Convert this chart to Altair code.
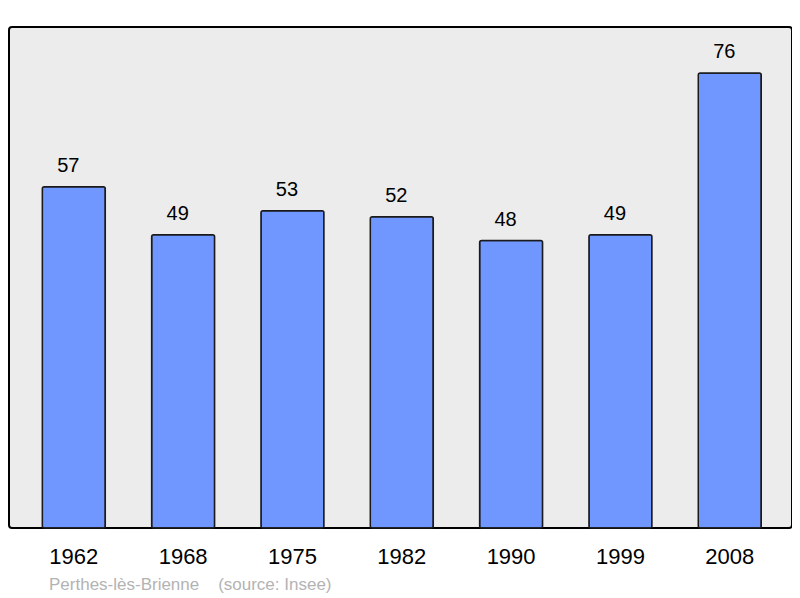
import altair as alt
import pandas as pd

years = ["1962", "1968", "1975", "1982", "1990", "1999", "2008"]
population = [57, 49, 53, 52, 48, 49, 76]
footer = "Perthes-lès-Brienne\u00a0\u00a0\u00a0\u00a0(source: Insee)"

df = pd.DataFrame({"year": years, "pop": population})

x = alt.X("year:N", sort=years,
          scale=alt.Scale(paddingInner=0.424, paddingOuter=0.293, align=0.52),
          axis=alt.Axis(title=None, domain=False, ticks=False, labelAngle=0,
                        labelFontSize=22, labelFont="Liberation Sans",
                        labelColor="#000000", labelPadding=18))
y = alt.Y("pop:Q", scale=alt.Scale(domain=[0, 83.68], nice=False, zero=True), axis=None)

bars = alt.Chart(df).mark_bar(color="#7096ff", stroke="#1a1a1a", strokeWidth=1.5,
                              cornerRadius=2).encode(x=x, y=y)
labels = alt.Chart(df).mark_text(baseline="alphabetic", dx=-5.5, dy=-14.5, fontSize=20,
                                 font="Liberation Sans", color="#000000").encode(
    x=x, y=y, text="pop:Q")

chart = (bars + labels).properties(
    width=783, height=501,
    padding={"left": 1, "top": 19, "right": 0, "bottom": 66},
    autosize=alt.AutoSizeParams(type="none"),
    title=alt.TitleParams(footer, orient="bottom", anchor="start", dx=40, offset=10,
                          fontSize=17, font="Liberation Sans", fontWeight="normal",
                          color="#b3b3b3"),
).configure(
    background="#ffffff",
    view=alt.ViewConfig(fill="#ececec", stroke="#000000", strokeWidth=2, cornerRadius=3),
)

chart.save("out.html", embed_options={"renderer": "svg", "actions": False})
